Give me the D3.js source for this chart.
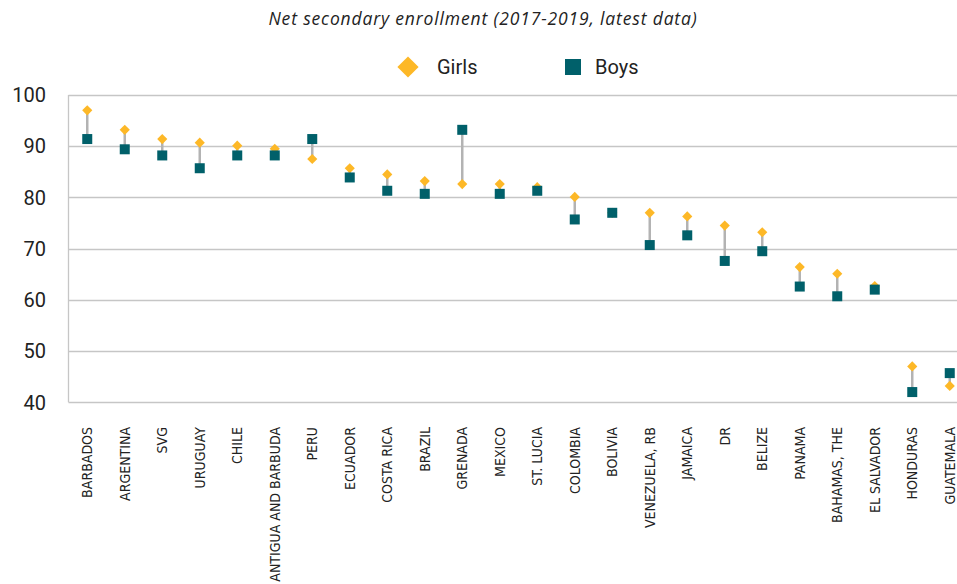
<!DOCTYPE html>
<html>
<head>
<meta charset="utf-8">
<script src="https://cdn.jsdelivr.net/npm/d3@7"></script>
<style>
  body { margin: 0; background: #fff; }
  svg { display: block; }
</style>
</head>
<body>
<div id="chart"></div>
<script>
// data
var countries = ["BARBADOS", "ARGENTINA", "SVG", "URUGUAY", "CHILE", "ANTIGUA AND BARBUDA", "PERU",
  "ECUADOR", "COSTA RICA", "BRAZIL", "GRENADA", "MEXICO", "ST. LUCIA", "COLOMBIA", "BOLIVIA",
  "VENEZUELA, RB", "JAMAICA", "DR", "BELIZE", "PANAMA", "BAHAMAS, THE", "EL SALVADOR", "HONDURAS", "GUATEMALA"];
var girls = [97.0, 93.2, 91.4, 90.7, 90.1, 89.5, 87.5, 85.7, 84.5, 83.2, 82.6, 82.6, 82.0, 80.1, 77.0,
  77.0, 76.3, 74.5, 73.2, 66.4, 65.1, 62.7, 47.0, 43.2];
var boys = [91.4, 89.4, 88.2, 85.7, 88.2, 88.2, 91.4, 83.9, 81.3, 80.7, 93.2, 80.7, 81.3, 75.7, 77.0,
  70.7, 72.6, 67.6, 69.5, 62.6, 60.7, 62.0, 42.0, 45.7];
var yTicks = [40, 50, 60, 70, 80, 90, 100];
var seriesNames = ["Girls", "Boys"];

var width = 957, height = 584;
var girlColor = "#fdb827", boyColor = "#00606a", gridColor = "#c6c6c6";

var svg = d3.select("#chart").append("svg").attr("width", width).attr("height", height);

var x = d3.scaleBand().domain(countries).range([68.5, 968.5]);
var y = d3.scaleLinear().domain([40, 100]).range([402.3, 95]);

// gridlines
svg.append("g").selectAll("line").data(yTicks).join("line")
  .attr("x1", 68.5).attr("x2", 968.5)
  .attr("y1", function(d) { return Math.round(y(d)) + 0.5; })
  .attr("y2", function(d) { return Math.round(y(d)) + 0.5; })
  .attr("stroke", gridColor).attr("stroke-width", 1.3);

svg.append("line")
  .attr("x1", 68.5).attr("x2", 68.5).attr("y1", y(100)).attr("y2", y(40))
  .attr("stroke", gridColor).attr("stroke-width", 1.3);

// y labels
svg.append("g").selectAll("text").data(yTicks).join("text")
  .attr("x", 46).attr("y", function(d) { return y(d); })
  .attr("dy", "0.36em").attr("text-anchor", "end")
  .style("font-family", "Roboto, sans-serif").style("font-size", "20px").style("fill", "#222")
  .text(function(d) { return d; });

// x labels
svg.append("g").selectAll("text").data(countries).join("text")
  .attr("transform", function(d) { return "translate(" + (x(d) + x.bandwidth() / 2) + ",427) rotate(-90)"; })
  .attr("dy", "0.35em").attr("text-anchor", "end")
  .style("font-family", "'Liberation Sans Narrow', 'DejaVu Sans Condensed', sans-serif")
  .style("font-size", "14px").style("fill", "#222")
  .text(function(d) { return d; });

var cx = function(i) { return x(countries[i]) + x.bandwidth() / 2; };

// connectors
svg.append("g").selectAll("line").data(countries).join("line")
  .attr("x1", function(d, i) { return cx(i); }).attr("x2", function(d, i) { return cx(i); })
  .attr("y1", function(d, i) { return y(girls[i]); }).attr("y2", function(d, i) { return y(boys[i]); })
  .attr("stroke", "#b3b3b3").attr("stroke-width", 2.5);

// girls diamonds (drawn under the boys squares)
svg.append("g").selectAll("path").data(girls).join("path")
  .attr("transform", function(d, i) { return "translate(" + cx(i) + "," + y(d) + ") rotate(45)"; })
  .attr("d", "M-3.6,-3.6H3.6V3.6H-3.6Z").attr("fill", girlColor);

// boys squares
svg.append("g").selectAll("rect").data(boys).join("rect")
  .attr("x", function(d, i) { return cx(i) - 5; }).attr("y", function(d) { return y(d) - 5; })
  .attr("width", 10).attr("height", 10).attr("fill", boyColor);

// title
svg.append("text").attr("x", 483).attr("y", 25).attr("text-anchor", "middle")
  .style("font-family", "'Open Sans', sans-serif").style("font-style", "italic")
  .style("font-size", "17.5px").style("letter-spacing", "0.85px").style("fill", "#222")
  .text("Net secondary enrollment (2017-2019, latest data)");

// legend
var legX = [408, 573];
var leg = svg.append("g").selectAll("g").data(seriesNames).join("g")
  .attr("transform", function(d, i) { return "translate(" + legX[i] + ",67)"; });
leg.filter(function(d, i) { return i === 0; }).append("path")
  .attr("d", "M-7.5,-7.5H7.5V7.5H-7.5Z").attr("transform", "rotate(45)").attr("fill", girlColor);
leg.filter(function(d, i) { return i === 1; }).append("rect")
  .attr("x", -8).attr("y", -8).attr("width", 16).attr("height", 16).attr("fill", boyColor);
leg.append("text").attr("x", function(d, i) { return i === 0 ? 29 : 22; }).attr("dy", "0.36em")
  .style("font-family", "Roboto, sans-serif").style("font-size", "20px").style("fill", "#222")
  .text(function(d) { return d; });
</script>
</body>
</html>
